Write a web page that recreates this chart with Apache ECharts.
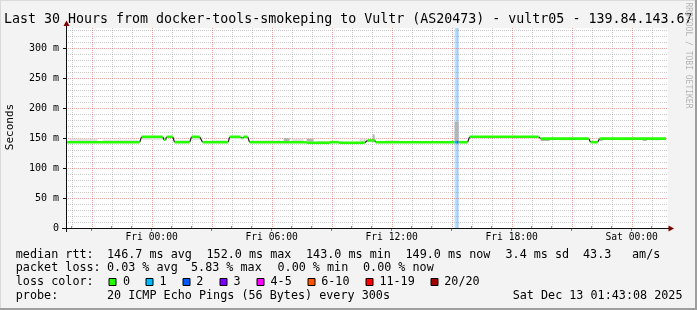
<!DOCTYPE html>
<html><head><meta charset="utf-8">
<script src="https://cdn.jsdelivr.net/npm/echarts@6/dist/echarts.min.js"></script>
<style>html,body{margin:0;padding:0;background:#f3f3f3}#c{width:697px;height:310px}</style>
</head><body><div id="c"></div>
<script>
// ---- data (time in hours relative to Fri 00:00) ----
const timeStart = -4.2811;   // Thu 19:43:08
const timeEnd = 25.7189;     // Sat 01:43:08
const xLabelHours = [0, 6, 12, 18, 24];
const xTickLabels = ['Fri 00:00', 'Fri 06:00', 'Fri 12:00', 'Fri 18:00', 'Sat 00:00'];
const yTickValues = [0, 50, 100, 150, 200, 250, 300];
const yMax = 330;
const yAxisTitle = 'Seconds';

// median rtt (ms) as constant segments
const medStart = [-4.28, -0.5, 0.62, 0.75, 1.15, 2.0, 2.55, 3.9, 4.5, 4.6, 4.9, 7.75, 8.9, 9.35, 10.8, 11.2, 15.15, 15.25, 15.35, 15.9, 19.45, 21.95, 22.4];
const medEnd   = [-0.6, 0.55, 0.7, 1.05, 1.9, 2.4, 3.83, 4.45, 4.55, 4.8, 7.75, 8.9, 9.35, 10.65, 11.15, 15.15, 15.25, 15.35, 15.8, 19.35, 21.85, 22.3, 25.72];
const medValue = [143, 152, 147, 152, 143, 152, 143, 152, 150, 152, 143, 142, 143, 142, 146, 143, 143, 143, 143, 152, 149, 143, 149];
const medLoss  = [0, 0, 0, 0, 0, 0, 0, 0, 0, 0, 0, 0, 0, 0, 0, 0, 1, 2, 0, 0, 0, 0, 0];

// loss background bands
const lossStart = [15.15, 15.25];
const lossEnd   = [15.25, 15.35];
const lossCount = [1, 2];

// smoke (ping spread), light
const smokeLStart = [-4.1, -2.45, -0.45, 1.15, 2.05, 3.0, 3.9, 5.0, 5.75, 7.0, 8.3, 9.25, 10.4, 11.7, 16.0, 17.3, 18.5, 20.4, 21.3, 23.4, 25.0];
const smokeLEnd   = [-2.7, -0.7, 0.75, 1.9, 2.55, 3.75, 4.75, 5.9, 6.45, 7.6, 8.9, 9.55, 11.0, 12.4, 16.8, 18.0, 19.3, 21.05, 21.55, 24.05, 25.4];
const smokeLLow   = [144, 144, 147, 144, 147, 144, 148, 144, 144, 144, 143, 143, 143, 144, 150, 150, 150, 146, 146, 146, 146];
const smokeLHigh  = [149, 147, 151, 146, 151, 146, 151, 146, 146, 148, 145, 145, 148, 146, 151, 151, 151, 148, 148, 148, 148];
// smoke, darker parts
const smokeDStart = [6.6, 7.75, 11.05, 15.15, 19.45, 22.4, 24.55];
const smokeDEnd   = [6.9, 8.1, 11.15, 15.35, 19.9, 22.55, 24.75];
const smokeDLow   = [145, 144, 143, 143, 145, 145, 145];
const smokeDHigh  = [150, 149, 156, 177, 148, 148, 148];

const lossLabels = ['0', '1', '2', '3', '4-5', '6-10', '11-19', '20/20'];
const lossColors = ['#26ff00', '#00b8ff', '#0059ff', '#7e00ff', '#ff00ff', '#ff5500', '#ff0000', '#a10000'];

const titleText = 'Last 30 Hours from docker-tools-smokeping to Vultr (AS20473) - vultr05 - 139.84.143.67';
const rttStats = ['146.7 ms avg', '152.0 ms max', '143.0 ms min', '149.0 ms now', '3.4 ms sd', '43.3', 'am/s'];
const lossStats = ['0.03 % avg', '5.83 % max', '0.00 % min', '0.00 % now'];
const probeText = '20 ICMP Echo Pings (56 Bytes) every 300s';
const dateText = 'Sat Dec 13 01:43:08 2025';

// ---- chart ----
const MONO = '"DejaVu Sans Mono", monospace';
function lossIdx(n) { if (n <= 3) return n; if (n <= 5) return 4; if (n <= 10) return 5; if (n <= 19) return 6; return 7; }

const hourTicks = [], majorHours = [];
for (let h = Math.ceil(timeStart); h <= timeEnd; h++) { if (h % 3 === 0) majorHours.push(h); else hourTicks.push(h); }
const yMinor = [];
for (let v = 10; v <= yMax; v += 10) if (v % 50 !== 0) yMinor.push(v);

const GREY = 'rgba(143,143,143,0.45)';
const RED = 'rgba(222,80,80,0.5)';

const medData = medStart.map((s, i) => [s, medEnd[i], medValue[i], medLoss[i]]);
// transitions between consecutive median segments (drawn dark)
const transData = [];
for (let i = 0; i < medStart.length - 1; i++) {
  if (medValue[i] !== medValue[i + 1]) transData.push([medEnd[i], medValue[i], medStart[i + 1], medValue[i + 1]]);
}
const lossData = lossStart.map((s, i) => [s, lossEnd[i], 0, lossCount[i]]);
const smokeL = smokeLStart.map((s, i) => [s, smokeLEnd[i], smokeLLow[i], smokeLHigh[i]]);
const smokeD = smokeDStart.map((s, i) => [s, smokeDEnd[i], smokeDLow[i], smokeDHigh[i]]);

function rectItem(color) {
  return function (params, api) {
    const a = api.coord([api.value(0), api.value(3)]);
    const b = api.coord([api.value(1), api.value(2)]);
    return { type: 'rect', shape: { x: a[0], y: a[1], width: Math.max(b[0] - a[0], 1), height: Math.max(b[1] - a[1], 1) }, style: { fill: color } };
  };
}
function vLine(color) {
  return function (params, api) {
    const p = api.coord([api.value(0), 0]);
    const cs = params.coordSys;
    const x = Math.round(p[0]) + 0.5;
    return { type: 'line', shape: { x1: x, y1: cs.y - 2, x2: x, y2: cs.y + cs.height }, style: { stroke: color, lineWidth: 1, lineDash: [1, 1] } };
  };
}
function hLine(color) {
  return function (params, api) {
    const p = api.coord([timeStart, api.value(0)]);
    const cs = params.coordSys;
    const y = Math.round(p[1]) + 0.5;
    return { type: 'line', shape: { x1: cs.x, y1: y, x2: cs.x + cs.width + 2, y2: y }, style: { stroke: color, lineWidth: 1, lineDash: [1, 1] } };
  };
}

const chart = echarts.init(document.getElementById('c'), null, { renderer: 'canvas' });

const graphics = [
  { type: 'rect', z: -100, shape: { x: 0, y: 0, width: 697, height: 310 }, style: { fill: '#f3f3f3' } },
  { type: 'rect', z: -99, shape: { x: 66, y: 28, width: 602, height: 200 }, style: { fill: '#ffffff' } },
  // frame
  { type: 'rect', z: 50, shape: { x: 0, y: 0, width: 697, height: 1 }, style: { fill: '#dadada' } },
  { type: 'rect', z: 50, shape: { x: 0, y: 0, width: 1, height: 310 }, style: { fill: '#dadada' } },
  { type: 'rect', z: 50, shape: { x: 695, y: 0, width: 2, height: 310 }, style: { fill: '#9e9e9e' } },
  { type: 'rect', z: 50, shape: { x: 0, y: 308, width: 697, height: 2 }, style: { fill: '#9e9e9e' } },
  // axis extensions and arrows
  { type: 'line', z: 50, shape: { x1: 62, y1: 228.5, x2: 669, y2: 228.5 }, style: { stroke: '#101010', lineWidth: 1 } },
  { type: 'line', z: 50, shape: { x1: 66.5, y1: 232, x2: 66.5, y2: 25 }, style: { stroke: '#101010', lineWidth: 1 } },
  { type: 'polygon', z: 51, shape: { points: [[668.5, 225.5], [674, 228.5], [668.5, 231.5]] }, style: { fill: '#7f0000' } },
  { type: 'polygon', z: 51, shape: { points: [[63.5, 26], [66.5, 20.5], [69.5, 26]] }, style: { fill: '#7f0000' } },
  // title, axis title, credit
  { type: 'text', z: 50, x: 4, y: 19.5, style: { text: titleText, font: '13.3px ' + MONO, fill: '#000', textAlign: 'left', textVerticalAlign: 'middle', align: 'left', verticalAlign: 'middle' } },
  { type: 'text', z: 50, x: 10.5, y: 127, rotation: Math.PI / 2, style: { text: yAxisTitle, font: '11px ' + MONO, fill: '#000', textAlign: 'center', textVerticalAlign: 'middle', align: 'center', verticalAlign: 'middle' } },
  { type: 'text', z: 50, x: 688.5, y: 55.5, rotation: -Math.PI / 2, style: { text: 'RRDTOOL / TOBI OETIKER', font: '8px ' + MONO, fill: '#b4b4b4', textAlign: 'center', textVerticalAlign: 'middle', align: 'center', verticalAlign: 'middle' } }
];

const LF = '11.75px ' + MONO;
function txt(x, y, t) {
  return { type: 'text', z: 50, x: x, y: y, style: { text: t, font: LF, fill: '#000', textAlign: 'left', textVerticalAlign: 'middle', align: 'left', verticalAlign: 'middle' } };
}
const rowY = [254.5, 268.4, 282.3, 296.2];
graphics.push(txt(15.8, rowY[0], 'median rtt:'));
[107, 206.5, 306, 405.5, 505.5, 583, 632].forEach((x, i) => graphics.push(txt(x, rowY[0], rttStats[i])));
graphics.push(txt(15.8, rowY[1], 'packet loss:'));
[107, 191, 277.5, 363].forEach((x, i) => graphics.push(txt(x, rowY[1], lossStats[i])));
graphics.push(txt(15.8, rowY[2], 'loss color:'));
const swX = [108.5, 145.5, 182.5, 219.5, 256.5, 307.5, 365.5, 430.5];
const lbX = [123, 159.4, 196.3, 233.6, 270.5, 321.2, 379.4, 444.3];
lossLabels.forEach((l, i) => {
  graphics.push({ type: 'rect', z: 50, shape: { x: swX[i] + 0.5, y: 278.5, width: 7, height: 7 }, style: { fill: lossColors[i], stroke: '#000', lineWidth: 1 } });
  graphics.push(txt(lbX[i], rowY[2], l));
});
graphics.push(txt(15.8, rowY[3], 'probe:'));
graphics.push(txt(107, rowY[3], probeText));
graphics.push(txt(512.7, rowY[3], dateText));

chart.setOption({
  animation: false,
  backgroundColor: '#f3f3f3',
  grid: { left: 66, top: 30, width: 600, height: 198, show: false, outerBoundsMode: 'none', containLabel: false },
  xAxis: [
    { type: 'value', position: 'bottom', min: timeStart, max: timeEnd, z: 1,
      axisLine: { show: true, onZero: false, lineStyle: { color: '#101010', width: 1 } },
      axisTick: { show: true, inside: true, length: 2, lineStyle: { color: '#8f8f8f' }, customValues: hourTicks },
      axisLabel: { show: false },
      splitLine: { show: false } },
    { type: 'value', position: 'bottom', min: timeStart, max: timeEnd, z: 1,
      axisLine: { show: false, onZero: false },
      axisTick: { show: true, inside: false, length: 3, lineStyle: { color: '#de5050' }, customValues: majorHours },
      axisLabel: { show: true, customValues: xLabelHours, margin: 4, fontFamily: MONO, fontSize: 9.7, color: '#000',
        formatter: v => xTickLabels[xLabelHours.indexOf(Math.round(v))] || '' },
      splitLine: { show: false } }
  ],
  yAxis: [
    { type: 'value', position: 'left', min: 0, max: yMax, z: 1,
      axisLine: { show: true, onZero: false, lineStyle: { color: '#101010' } },
      axisTick: { show: true, length: 3, lineStyle: { color: '#101010' }, customValues: yTickValues },
      axisLabel: { show: true, customValues: yTickValues, margin: 7, fontFamily: MONO, fontSize: 10, color: '#000',
        formatter: v => (v === 0 ? '0' : v + ' m') },
      splitLine: { show: false } }
  ],
  series: [
    { type: 'custom', name: 'lossbg', z: 0, xAxisIndex: 0, yAxisIndex: 0, data: lossData, encode: { x: [0, 1], y: 2 },
      renderItem: function (params, api) {
        const a = api.coord([api.value(0), 0]);
        const b = api.coord([api.value(1), 0]);
        const cs = params.coordSys;
        return { type: 'rect', shape: { x: a[0], y: cs.y - 2, width: b[0] - a[0], height: cs.height + 2 },
          style: { fill: lossColors[lossIdx(api.value(3))], opacity: 0.33 } };
      } },
    { type: 'custom', name: 'vgrid', z: 1, xAxisIndex: 0, yAxisIndex: 0, data: hourTicks.map(h => [h]), encode: { x: 0 }, renderItem: vLine(GREY) },
    { type: 'custom', name: 'hgrid', z: 1, xAxisIndex: 0, yAxisIndex: 0, data: yMinor.map(v => [v]), encode: { y: 0 }, renderItem: hLine(GREY) },
    { type: 'custom', name: 'vgridMajor', z: 1, xAxisIndex: 0, yAxisIndex: 0, data: majorHours.map(h => [h]), encode: { x: 0 }, renderItem: vLine(RED) },
    { type: 'custom', name: 'hgridMajor', z: 1, xAxisIndex: 0, yAxisIndex: 0, data: yTickValues.filter(v => v > 0).map(v => [v]), encode: { y: 0 }, renderItem: hLine(RED) },
    { type: 'custom', name: 'smoke', z: 2, xAxisIndex: 0, yAxisIndex: 0, data: smokeL, encode: { x: [0, 1], y: [2, 3] }, renderItem: rectItem('#dedede') },
    { type: 'custom', name: 'smoke2', z: 2, xAxisIndex: 0, yAxisIndex: 0, data: smokeD, encode: { x: [0, 1], y: [2, 3] }, renderItem: rectItem('#b4b4b4') },
    { type: 'custom', name: 'transitions', z: 3, xAxisIndex: 0, yAxisIndex: 0, data: transData, encode: { x: [0, 2], y: [1, 3] },
      renderItem: function (params, api) {
        const a = api.coord([api.value(0), api.value(1)]);
        const b = api.coord([api.value(2), api.value(3)]);
        return { type: 'line', shape: { x1: a[0], y1: a[1], x2: b[0], y2: b[1] }, style: { stroke: '#202020', lineWidth: 1.2 } };
      } },
    { type: 'custom', name: 'medianLoss', z: 4, xAxisIndex: 0, yAxisIndex: 0, data: medData, encode: { x: [0, 1], y: 2 },
      renderItem: function (params, api) {
        const a = api.coord([api.value(0), api.value(2)]);
        const b = api.coord([api.value(1), api.value(2)]);
        return { type: 'rect', shape: { x: a[0], y: a[1] - 1.3, width: Math.max(b[0] - a[0], 1), height: 2.6 },
          style: { fill: lossColors[lossIdx(api.value(3))] } };
      } }
  ],
  graphic: { elements: graphics }
});
</script></body></html>
